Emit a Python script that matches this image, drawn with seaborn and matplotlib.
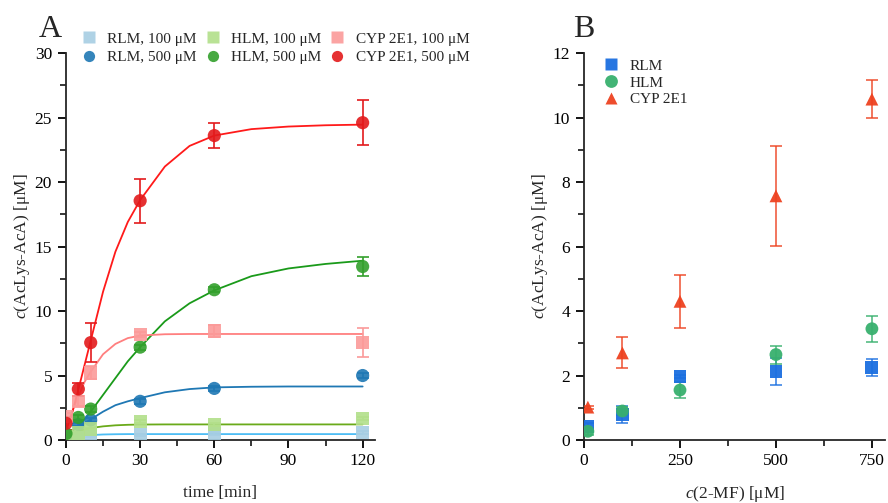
import numpy as np
import pandas as pd
import matplotlib
matplotlib.use('Agg')
import matplotlib.pyplot as plt
import seaborn as sns
from matplotlib.ticker import MultipleLocator

# Panel A - time course (points with SD)
time_pts = [0, 5, 10, 30, 60, 120]
rlm_100 = [0.1, 0.2, 0.3, 0.4, 0.5, 0.6]
rlm_100_sd = [0.05, 0.05, 0.05, 0.1, 0.1, 0.1]
rlm_500 = [0.3, 1.2, 1.55, 3.0, 4.0, 5.0]
rlm_500_sd = [0.1, 0.15, 0.15, 0.2, 0.2, 0.2]
hlm_100 = [0.3, 0.55, 0.85, 1.45, 1.2, 1.65]
hlm_100_sd = [0.05, 0.1, 0.1, 0.1, 0.1, 0.1]
hlm_500 = [0.5, 1.75, 2.4, 7.2, 11.65, 13.45]
hlm_500_sd = [0.1, 0.2, 0.2, 0.2, 0.2, 0.7]
cyp_100 = [1.8, 3.0, 5.2, 8.15, 8.45, 7.55]
cyp_100_sd = [0.3, 0.4, 0.5, 0.2, 0.5, 1.1]
cyp_500 = [1.3, 3.95, 7.55, 18.55, 23.6, 24.6]
cyp_500_sd = [0.5, 0.5, 1.5, 1.7, 1.0, 1.75]

# Panel A - fitted curves
curve_t = [0, 2.5, 5, 7.5, 10, 15, 20, 25, 30, 40, 50, 60, 75, 90, 105, 120]
rlm_100_fit = [0.1, 0.2, 0.28, 0.34, 0.38, 0.43, 0.45, 0.46, 0.46, 0.46, 0.46, 0.46, 0.46, 0.46, 0.46, 0.46]
rlm_500_fit = [0.5, 0.75, 1.0, 1.3, 1.6, 2.2, 2.7, 3.0, 3.25, 3.7, 3.95, 4.08, 4.13, 4.15, 4.15, 4.15]
hlm_100_fit = [0.3, 0.5, 0.68, 0.82, 0.93, 1.06, 1.14, 1.18, 1.2, 1.21, 1.21, 1.21, 1.21, 1.21, 1.21, 1.21]
hlm_500_fit = [0.4, 0.7, 1.1, 1.6, 2.2, 3.5, 4.8, 6.1, 7.2, 9.2, 10.6, 11.6, 12.7, 13.3, 13.65, 13.9]
cyp_100_fit = [0.8, 2.2, 3.4, 4.5, 5.3, 6.65, 7.45, 7.9, 8.1, 8.2, 8.22, 8.22, 8.22, 8.22, 8.22, 8.22]
cyp_500_fit = [0.7, 2.1, 3.9, 5.8, 7.7, 11.5, 14.6, 16.9, 18.6, 21.2, 22.8, 23.6, 24.1, 24.3, 24.4, 24.45]

series_a = ['RLM, 100 μM', 'RLM, 500 μM', 'HLM, 100 μM',
            'HLM, 500 μM', 'CYP 2E1, 100 μM', 'CYP 2E1, 500 μM']

# Panel B - concentration dependence
conc = [10, 100, 250, 500, 750]
rlm_b = [0.43, 0.8, 1.97, 2.13, 2.25]
rlm_b_sd = [0.1, 0.26, 0.06, 0.42, 0.27]
hlm_b = [0.27, 0.9, 1.55, 2.65, 3.45]
hlm_b_sd = [0.1, 0.12, 0.25, 0.28, 0.4]
cyp_b = [1.02, 2.7, 4.3, 7.57, 10.57]
cyp_b_sd = [0.05, 0.48, 0.82, 1.55, 0.6]
series_b = ['RLM', 'HLM', 'CYP 2E1']

# colours / styles
pal_a = sns.color_palette('Paired', 6)
line_cols = ['#4dbdf5', '#1f78b4', '#6aaa1a', '#1a9a1a', '#ff7f7f', '#ff1a1a']
marks_a = ['s', 'o', 's', 'o', 's', 'o']
cols_b = ['#1b6fe0', '#38b06e', '#ee4220']
marks_b = ['s', 'o', '^']

sns.set_style('ticks')
plt.rcParams['font.family'] = ['Liberation Serif', 'DejaVu Serif']
plt.rcParams['mathtext.fontset'] = 'custom'
plt.rcParams['mathtext.rm'] = 'Liberation Serif'
plt.rcParams['mathtext.it'] = 'Liberation Serif:italic'
plt.rcParams['font.size'] = 12
plt.rcParams['axes.linewidth'] = 1.3
for k in ['xtick', 'ytick']:
    plt.rcParams[k + '.major.width'] = 1.3
    plt.rcParams[k + '.minor.width'] = 1.1
    plt.rcParams[k + '.minor.size'] = 4
    plt.rcParams[k + '.direction'] = 'out'
    plt.rcParams[k + '.color'] = 'black'
    plt.rcParams[k + '.labelsize'] = 12.5
plt.rcParams['xtick.major.size'] = 5.5
plt.rcParams['ytick.major.size'] = 6
plt.rcParams['ytick.major.pad'] = 4

fig = plt.figure(figsize=(8.88, 5.03), dpi=100)
axA = fig.add_axes([0.0743, 0.1252, 0.348, 0.7694])
axB = fig.add_axes([0.6577, 0.1252, 0.3393, 0.7694])

# ---- Panel A ----
pts = [rlm_100, rlm_500, hlm_100, hlm_500, cyp_100, cyp_500]
sds = [rlm_100_sd, rlm_500_sd, hlm_100_sd, hlm_500_sd, cyp_100_sd, cyp_500_sd]
fits = [rlm_100_fit, rlm_500_fit, hlm_100_fit, hlm_500_fit, cyp_100_fit, cyp_500_fit]

df_fit = pd.concat([pd.DataFrame({'t': curve_t, 'y': f, 'serie': s})
                    for f, s in zip(fits, series_a)])
df_pts = pd.concat([pd.DataFrame({'t': time_pts, 'y': p, 'sd': e, 'serie': s})
                    for p, e, s in zip(pts, sds, series_a)])

sns.lineplot(data=df_fit, x='t', y='y', hue='serie', hue_order=series_a,
             palette=line_cols, linewidth=1.3, legend=False, ax=axA, zorder=2)
for i, s in enumerate(series_a):
    d = df_pts[df_pts['serie'] == s]
    axA.errorbar(d['t'], d['y'], yerr=d['sd'], fmt='none', ecolor=pal_a[i],
                 elinewidth=1.2, capsize=4, capthick=1.2, zorder=3)
sns.scatterplot(data=df_pts, x='t', y='y', hue='serie', hue_order=series_a,
                style='serie', style_order=series_a, markers=marks_a,
                palette=pal_a, s=90, edgecolor='none', alpha=0.9, ax=axA, zorder=4)

axA.set_xlim(0, 125)
axA.set_ylim(0, 30)
axA.xaxis.set_major_locator(MultipleLocator(30))
axA.xaxis.set_minor_locator(MultipleLocator(15))
axA.yaxis.set_major_locator(MultipleLocator(5))
axA.yaxis.set_minor_locator(MultipleLocator(2.5))
axA.set_xlabel('time [min]', fontsize=12.5, labelpad=12)
axA.set_ylabel(r'$c$(AcLys-AcA) [μM]', fontsize=12.5, labelpad=2)
sns.despine(ax=axA)
axA.legend(loc='upper left', bbox_to_anchor=(0.03, 1.07), ncol=3, frameon=False,
           fontsize=11, handlelength=1.0, handletextpad=0.7, columnspacing=0.55,
           labelspacing=0.3, borderaxespad=0, markerscale=0.85)
axA.text(-0.052, 1.098, 'A', transform=axA.transAxes, fontsize=23, ha='center', va='top')

# ---- Panel B ----
vals_b = [rlm_b, hlm_b, cyp_b]
sds_b = [rlm_b_sd, hlm_b_sd, cyp_b_sd]
df_b = pd.concat([pd.DataFrame({'c': conc, 'y': v, 'sd': e, 'serie': s})
                  for v, e, s in zip(vals_b, sds_b, series_b)])
for i, s in enumerate(series_b):
    d = df_b[df_b['serie'] == s]
    axB.errorbar(d['c'], d['y'], yerr=d['sd'], fmt='none', ecolor=cols_b[i],
                 alpha=0.85, elinewidth=1.2, capsize=4, capthick=1.2, zorder=3)
sns.scatterplot(data=df_b, x='c', y='y', hue='serie', hue_order=series_b,
                style='serie', style_order=series_b, markers=marks_b,
                palette=cols_b, s=85, edgecolor='none', alpha=0.95, ax=axB, zorder=4)

axB.set_xlim(0, 785)
axB.set_ylim(0, 12)
axB.xaxis.set_major_locator(MultipleLocator(250))
axB.xaxis.set_minor_locator(MultipleLocator(125))
axB.yaxis.set_major_locator(MultipleLocator(2))
axB.yaxis.set_minor_locator(MultipleLocator(1))
axB.set_xlabel(r'$c$(2-MF) [μM]', fontsize=12.5, labelpad=11)
axB.set_ylabel(r'$c$(AcLys-AcA) [μM]', fontsize=12.5, labelpad=2)
sns.despine(ax=axB)
axB.legend(loc='upper left', bbox_to_anchor=(0.035, 1.0), frameon=False,
           fontsize=11, handlelength=1.4, handletextpad=0.5, labelspacing=0.2,
           borderaxespad=0)
axB.text(0.0, 1.098, 'B', transform=axB.transAxes, fontsize=23, ha='center', va='top')

fig.savefig('out.png', dpi=100)
